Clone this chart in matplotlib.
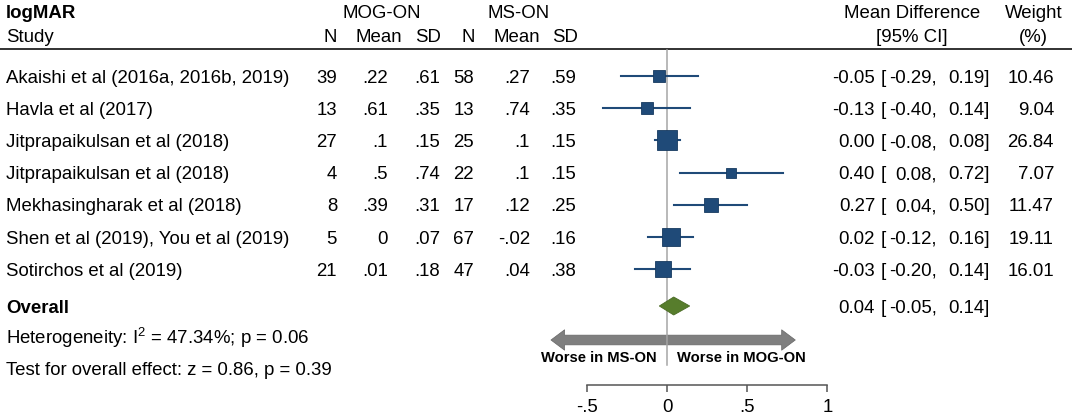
import matplotlib
matplotlib.use('Agg')
import matplotlib.pyplot as plt
from matplotlib.patches import FancyArrowPatch

plt.rcParams['font.family'] = ['Liberation Sans', 'DejaVu Sans']
plt.rcParams['mathtext.fontset'] = 'custom'
plt.rcParams['mathtext.rm'] = 'Liberation Sans'
plt.rcParams['mathtext.default'] = 'regular'

studies = ['Akaishi et al (2016a, 2016b, 2019)', 'Havla et al (2017)',
           'Jitprapaikulsan et al (2018)', 'Jitprapaikulsan et al (2018)',
           'Mekhasingharak et al (2018)', 'Shen et al (2019), You et al (2019)',
           'Sotirchos et al (2019)']
mog_n = [39, 13, 27, 4, 8, 5, 21]
mog_mean = [0.22, 0.61, 0.1, 0.5, 0.39, 0, 0.01]
mog_sd = [0.61, 0.35, 0.15, 0.74, 0.31, 0.07, 0.18]
ms_n = [58, 13, 25, 22, 17, 67, 47]
ms_mean = [0.27, 0.74, 0.1, 0.1, 0.12, -0.02, 0.04]
ms_sd = [0.59, 0.35, 0.15, 0.15, 0.25, 0.16, 0.38]
md = [-0.05, -0.13, 0.00, 0.40, 0.27, 0.02, -0.03]
ci_lo = [-0.29, -0.40, -0.08, 0.08, 0.04, -0.12, -0.20]
ci_hi = [0.19, 0.14, 0.08, 0.72, 0.50, 0.16, 0.14]
weight = [10.46, 9.04, 26.84, 7.07, 11.47, 19.11, 16.01]
overall_md, overall_lo, overall_hi = 0.04, -0.05, 0.14
heterogeneity = r'Heterogeneity: I$^{2}$ = 47.34%; p = 0.06'
overall_test = 'Test for overall effect: z = 0.86, p = 0.39'
xticks = [-0.5, 0, 0.5, 1]
xtick_labels = ['-.5', '0', '.5', '1']

BLUE = '#1F4A78'
GREEN = '#577D2C'
GRAY = '#7F7F7F'
FS = 13.4
W, H = 1074, 415
ZERO_PX, PX_PER_UNIT = 667.3, 160.0

# row layout (pixel y, top down)
row_y = [76 + 32.2 * i for i in range(len(studies))]
overall_y, het_y, test_y = 306, 337, 368
arrow_y, worse_y = 340, 357


def stata(v):
    if v == 0:
        return '0'
    return f'{v:g}'.replace('0.', '.', 1)


fig = plt.figure(figsize=(W / 100, H / 100), dpi=100, facecolor='white')

# text layer, x in pixels
tx = fig.add_axes([0, 0, 1, 1])
tx.set_xlim(0, W)
tx.set_ylim(H, 0)
tx.axis('off')

# forest layer, x in effect units
ax = fig.add_axes([0, 0, 1, 1])
ax.set_xlim(-ZERO_PX / PX_PER_UNIT, (W - ZERO_PX) / PX_PER_UNIT)
ax.set_ylim(H, 0)
ax.axis('off')
ax.patch.set_alpha(0)


def put(x, y, s, ha='left', size=FS, weight='normal'):
    # y is the visual middle of the capitals
    tx.text(x, y + 0.358 * size / 0.72, s, ha=ha, va='baseline',
            fontsize=size, fontweight=weight, color='black')


# headers
put(6, 11, 'logMAR', weight='bold')
put(6, 35, 'Study')
put(382, 11, 'MOG-ON', ha='center')
put(519, 11, 'MS-ON', ha='center')
put(337, 35, 'N', ha='right')
put(379, 35, 'Mean', ha='center')
put(441, 35, 'SD', ha='right')
put(475, 35, 'N', ha='right')
put(517, 35, 'Mean', ha='center')
put(578, 35, 'SD', ha='right')
put(912, 11, 'Mean Difference', ha='center')
put(912, 35, '[95% CI]', ha='center')
put(1034, 11, 'Weight', ha='center')
put(1033, 35, '(%)', ha='center')
tx.plot([0, 1072], [49, 49], color='#222222', lw=1.3, solid_capstyle='butt')

# study rows
for i, y in enumerate(row_y):
    put(6, y, studies[i])
    put(337, y, str(mog_n[i]), ha='right')
    put(388, y, stata(mog_mean[i]), ha='right')
    put(440, y, stata(mog_sd[i]), ha='right')
    put(474, y, str(ms_n[i]), ha='right')
    put(530, y, stata(ms_mean[i]), ha='right')
    put(576, y, stata(ms_sd[i]), ha='right')
    put(875, y, f'{md[i]:.2f}', ha='right')
    put(881, y, '[')
    put(937, y, f'{ci_lo[i]:.2f},', ha='right')
    put(990, y, f'{ci_hi[i]:.2f}]', ha='right')
    put(1054, y, f'{weight[i]:.2f}', ha='right')

    ax.plot([ci_lo[i], ci_hi[i]], [y, y], color=BLUE, lw=1.5, zorder=3)
    side = 4.0 * weight[i] ** 0.5 * 0.72
    ax.plot(md[i], y, marker='s', ms=side, color=BLUE, mec='#173a60',
            mew=0.6, zorder=4)

# overall
put(6, overall_y, 'Overall', weight='bold')
put(875, overall_y, f'{overall_md:.2f}', ha='right')
put(881, overall_y, '[')
put(937, overall_y, f'{overall_lo:.2f},', ha='right')
put(990, overall_y, f'{overall_hi:.2f}]', ha='right')
dh = 9
ax.fill([overall_lo, overall_md, overall_hi, overall_md],
        [overall_y, overall_y - dh, overall_y, overall_y + dh],
        color=GREEN, ec='#4a6b25', lw=0.6, zorder=4)

put(6, het_y, heterogeneity)
put(6, test_y, overall_test)

# zero line
ax.plot([0, 0], [50, 365], color='#A6A6A6', lw=1.1, zorder=2)

# direction arrows
for tip in (-0.727, 0.80):
    ax.add_patch(FancyArrowPatch((0, arrow_y), (tip, arrow_y),
                                 arrowstyle='simple,head_length=0.7,head_width=1.05,tail_width=0.5',
                                 mutation_scale=14, fc=GRAY, ec='#666666', lw=0.5,
                                 shrinkA=0, shrinkB=0, zorder=1))
put(657, worse_y, 'Worse in MS-ON', ha='right', size=10.6, weight='bold')
put(677, worse_y, 'Worse in MOG-ON', size=10.6, weight='bold')

# x axis
left_px = ZERO_PX + xticks[0] * PX_PER_UNIT
right_px = ZERO_PX + xticks[-1] * PX_PER_UNIT
xa = fig.add_axes([left_px / W, (H - 385) / H, (right_px - left_px) / W, 0.0001])
xa.set_xlim(xticks[0], xticks[-1])
xa.patch.set_alpha(0)
for s in ('top', 'left', 'right'):
    xa.spines[s].set_visible(False)
xa.spines['bottom'].set_color('#555555')
xa.spines['bottom'].set_linewidth(1.1)
xa.set_yticks([])
xa.set_xticks(xticks)
xa.set_xticklabels(xtick_labels)
xa.tick_params(axis='x', direction='out', length=5, width=1.1, color='#555555',
               labelsize=FS, pad=5)

fig.savefig('out.png', dpi=100, facecolor='white')
